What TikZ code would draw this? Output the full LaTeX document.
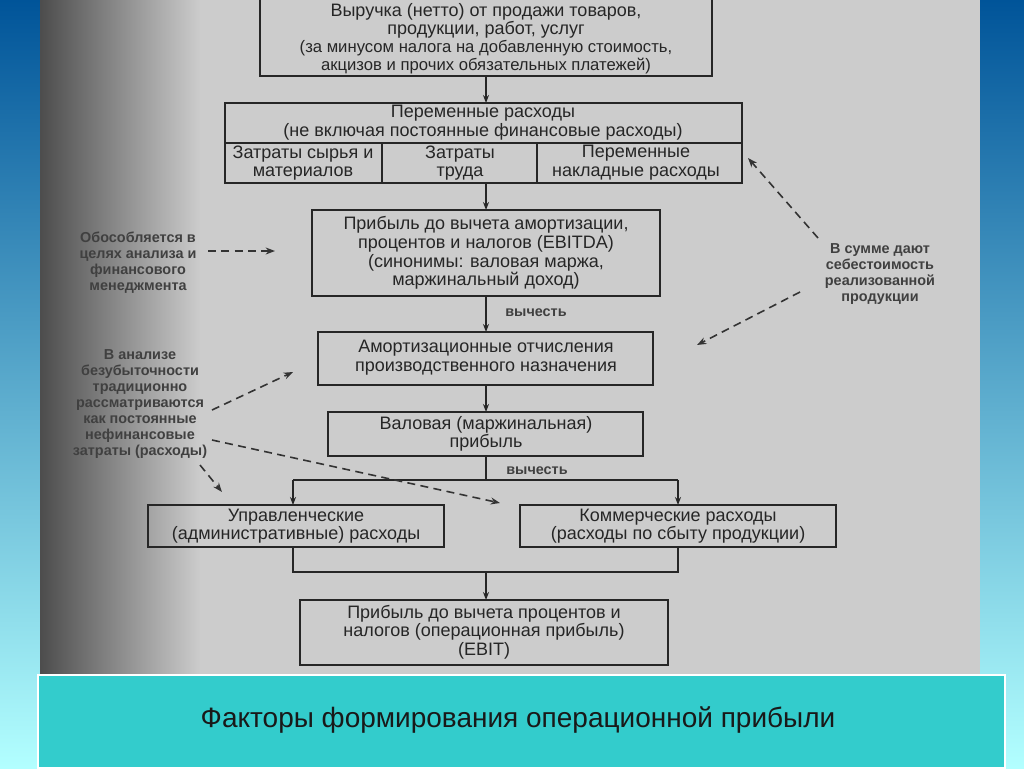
\documentclass[tikz,border=0pt]{standalone}
\usepackage{fontspec}
\setmainfont{Liberation Sans}
\usetikzlibrary{arrows.meta}
\definecolor{capc}{HTML}{33CCCC}
\begin{document}
\begin{tikzpicture}[x=0.75pt,y=-0.75pt,
  bx/.style={draw=black!85,line width=1.8pt},
  txt/.style={align=center,font=\fontsize{13.5}{14}\selectfont,text=black!85},
  note/.style={align=center,font=\bfseries\fontsize{10.8}{12}\selectfont,text=black!75},
  ln/.style={draw=black!85,line width=1.3pt},
  ar/.style={ln,-{Stealth[length=6pt]}},
  da/.style={draw=black!80,line width=1.2pt,dash pattern=on 6pt off 4pt,-{Stealth[length=7pt]}}]
\useasboundingbox (0,0) rectangle (1024,768);
\shade[top color=blue!45!cyan!60!black,bottom color=cyan!30!white] (0,0) rectangle (1024,768);
\fill[black!20] (40,0) rectangle (980,675);
\shade[left color=black!70,right color=black!20] (40,0) rectangle (200,675);
% caption
\fill[capc] (38,675) rectangle (1005,768);
\draw[white,line width=1pt] (38,675) rectangle (1005,768);
\node[font=\fontsize{21}{23}\selectfont,text=black!90] (cap) at (518,720) {Факторы формирования операционной прибыли};
% boxes
\draw[bx] (260,-2) rectangle (712,76);
\node[txt,font=\fontsize{13.5}{13.5}\selectfont] (rev) at (486,39) {Выручка (нетто) от продажи товаров,\\продукции, работ, услуг\\{\fontsize{12.5}{11}\selectfont (за минусом налога на добавленную стоимость,}\\{\fontsize{12.5}{11}\selectfont акцизов и прочих обязательных платежей)}};
\coordinate (revb) at (486,76);
\draw[bx] (225,103) rectangle (742,183);
\draw[ln] (225,143) -- (742,143) (382,143) -- (382,183) (537,143) -- (537,183);
\coordinate (vart) at (486,103);
\node[txt] (var) at (483,123) {Переменные расходы\\(не включая постоянные финансовые расходы)};
\node[txt] (c1) at (303,163) {Затраты сырья и\\материалов};
\node[txt] (c2) at (460,163) {Затраты\\труда};
\node[txt] (c3) at (636,163) {Переменные\\накладные расходы};
\coordinate (varb) at (486,183);
\draw[bx] (312,210) rectangle (660,296);
\node[txt] (ebitda) at (486,253) {Прибыль до вычета амортизации,\\процентов и налогов (EBITDA)\\(синонимы: валовая маржа,\\маржинальный доход)};
\draw[bx] (318,332) rectangle (653,385);
\node[txt] (am) at (486,358) {Амортизационные отчисления\\производственного назначения};
\draw[bx] (328,412) rectangle (643,456);
\node[txt] (gr) at (486,434) {Валовая (маржинальная)\\прибыль};
\draw[bx] (148,505) rectangle (444,547);
\node[txt] (adm) at (296,526) {Управленческие\\(административные) расходы};
\draw[bx] (520,505) rectangle (836,547);
\node[txt] (com) at (678,526) {Коммерческие расходы\\(расходы по сбыту продукции)};
\draw[bx] (300,600) rectangle (668,665);
\node[txt] (ebit) at (484,632) {Прибыль до вычета процентов и\\налогов (операционная прибыль)\\(EBIT)};
% arrows
\draw[ar] (revb) -- (vart);
\draw[ar] (varb) -- (486,210);
\draw[ar] (486,296) -- (486,332);
\node[note] (v1) at (536,313) {вычесть};
\draw[ar] (486,385) -- (486,412);
\draw[ln] (486,456) -- (486,480);
\node[note] (v2) at (537,471) {вычесть};
\draw[ln] (293,480) -- (678,480);
\draw[ar] (293,480) -- (293,505);
\draw[ar] (678,480) -- (678,505);
\draw[ln] (293,547) -- (293,572) -- (678,572) -- (678,547);
\draw[ar] (486,572) -- (486,600);
% notes
\node[note] (n1) at (138,263) {Обособляется в\\целях анализа и\\финансового\\менеджмента};
\coordinate (n1e) at (275,251);
\draw[da] (208,251) -- (n1e);
\node[note] (n2) at (140,404) {В анализе\\безубыточности\\традиционно\\рассматриваются\\как постоянные\\нефинансовые\\затраты (расходы)};
\coordinate (e1) at (293,372);
\coordinate (e2) at (500,503);
\coordinate (e3) at (222,492);
\draw[da] (212,410) -- (e1);
\draw[da] (212,440) -- (e2);
\draw[da] (200,465) -- (e3);
\node[note] (n3) at (880,274) {В сумме дают\\себестоимость\\реализованной\\продукции};
\coordinate (e4) at (748,158);
\coordinate (e5) at (697,345);
\draw[da] (818,238) -- (e4);
\draw[da] (800,292) -- (e5);
\end{tikzpicture}
\end{document}
